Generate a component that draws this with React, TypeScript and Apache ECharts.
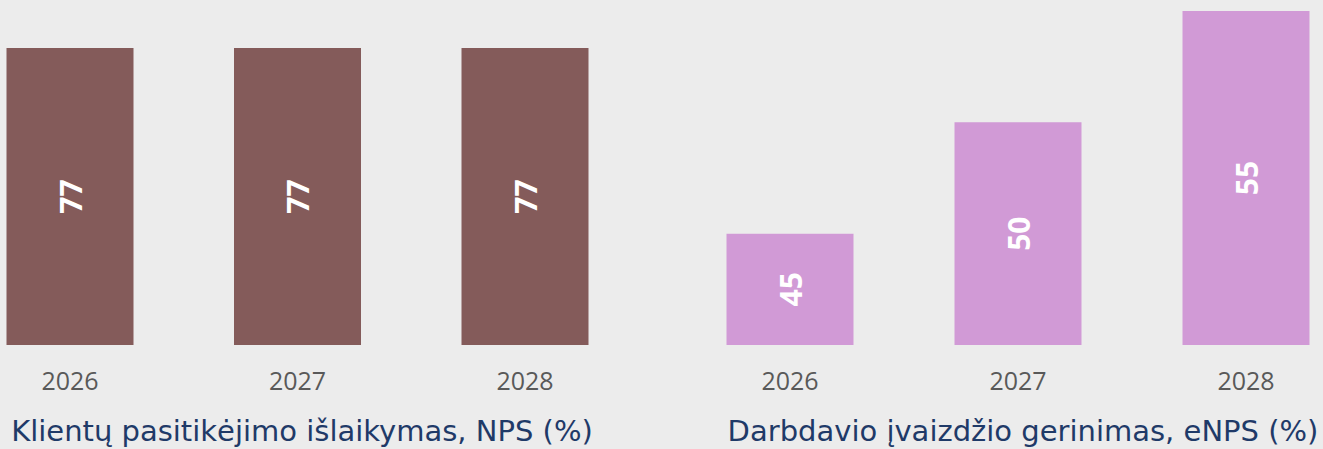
import React, { useEffect, useRef } from "react";
import * as echarts from "echarts";

const years = ["2026", "2027", "2028"];
const npsValues = [77, 77, 77];
const enpsValues = [45, 50, 55];
const npsTitle = "Klientų pasitikėjimo išlaikymas, NPS (%)";
const enpsTitle = "Darbdavio įvaizdžio gerinimas, eNPS (%)";

const FONT = "'Open Sans', 'Noto Sans', sans-serif";
const TITLE_FONT = "'DejaVu Sans', 'Open Sans', sans-serif";

export default function App() {
  const ref = useRef<HTMLDivElement>(null);
  useEffect(() => {
    document.body.style.margin = "0";
    const chart = echarts.init(ref.current!, null, { renderer: "svg" });
    const xAxisCommon = {
      type: "category" as const,
      data: years,
      boundaryGap: false,
      axisLine: { show: false },
      axisTick: { show: false },
      axisLabel: { color: "#595959", fontSize: 25, fontFamily: FONT, margin: 22 },
    };
    const labelCommon = {
      show: true,
      position: "inside" as const,
      rotate: 90,
      color: "#ffffff",
      fontSize: 30,
      fontWeight: "bold" as const,
      fontFamily: FONT,
    };
    chart.setOption({
      animation: false,
      backgroundColor: "#ececec",
      title: [
        {
          text: npsTitle,
          left: 297,
          top: 411,
          textAlign: "center",
          textStyle: { color: "#1f3a68", fontSize: 29, fontWeight: "normal", fontFamily: TITLE_FONT },
        },
        {
          text: enpsTitle,
          left: 1018,
          top: 411,
          textAlign: "center",
          textStyle: { color: "#1f3a68", fontSize: 29, fontWeight: "normal", fontFamily: TITLE_FONT },
        },
      ],
      grid: [
        { left: 70, right: 798, top: 11, bottom: 104 },
        { left: 790, right: 77, top: 11, bottom: 104 },
      ],
      xAxis: [
        { ...xAxisCommon, gridIndex: 0 },
        { ...xAxisCommon, gridIndex: 1 },
      ],
      yAxis: [
        { type: "value", gridIndex: 0, min: 0, max: 86.6, show: false, splitLine: { show: false } },
        { type: "value", gridIndex: 1, min: 40, max: 55, show: false, splitLine: { show: false } },
      ],
      series: [
        {
          type: "bar",
          xAxisIndex: 0,
          yAxisIndex: 0,
          data: npsValues,
          barWidth: 127,
          itemStyle: { color: "#845b5a" },
          label: labelCommon,
        },
        {
          type: "bar",
          xAxisIndex: 1,
          yAxisIndex: 1,
          data: enpsValues,
          barWidth: 127,
          itemStyle: { color: "#d19ad6" },
          label: labelCommon,
        },
      ],
    });
    return () => chart.dispose();
  }, []);
  return <div ref={ref} style={{ width: 1323, height: 449 }} />;
}
